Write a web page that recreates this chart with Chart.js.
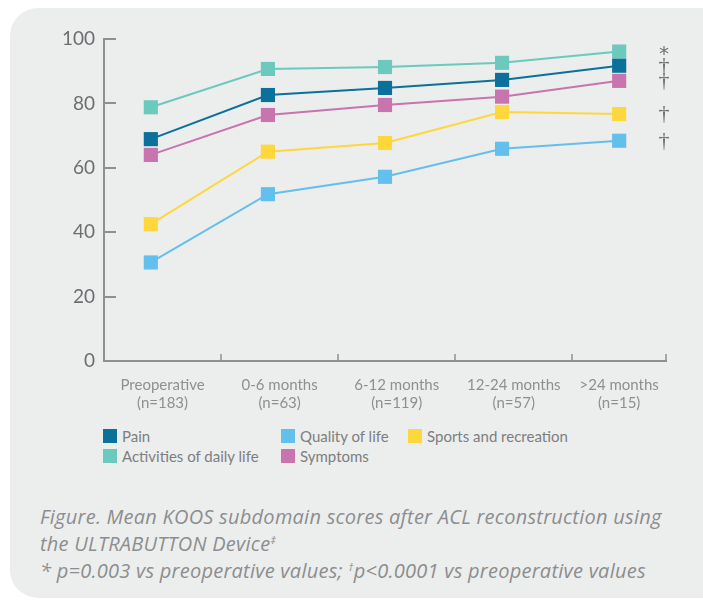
<!DOCTYPE html>
<html>
<head>
<meta charset="utf-8">
<script src="https://cdn.jsdelivr.net/npm/chart.js@4.4.1/dist/chart.umd.min.js"></script>
<style>
  html, body { margin:0; padding:0; background:#ffffff; }
  body { width:703px; height:604px; position:relative; overflow:hidden; font-family: Lato, "Open Sans", sans-serif; }
  #card { position:absolute; left:10px; top:8px; width:720px; height:590px; background:#eceded; border-radius:28px; }
  #chart { position:absolute; left:0; top:0; }
  .lg { position:absolute; display:flex; align-items:center; font-size:15px; color:#7d7e80; white-space:nowrap; height:16px; }
  .lg i { display:inline-block; width:14px; height:14px; margin-right:5px; }
  #caption { position:absolute; left:40px; top:503px; font-family:"Open Sans", sans-serif; font-style:italic; font-size:20px; line-height:27px; color:#8c8d8f; white-space:nowrap; letter-spacing:0.25px; }
  #caption sup { font-size:11px; vertical-align: 7px; line-height:0; }
</style>
</head>
<body>
<div id="card"></div>
<canvas id="chart" width="703" height="420"></canvas>
<div id="legend"></div>
<div id="caption">Figure. Mean KOOS subdomain scores after ACL reconstruction using<br>the ULTRABUTTON Device<sup>‡</sup><br>* p=0.003 vs preoperative values; <sup>†</sup>p&lt;0.0001 vs preoperative values</div>
<script>
// ---- data ----
const categories = ['Preoperative', '0-6 months', '6-12 months', '12-24 months', '>24 months'];
const sampleSizes = ['(n=183)', '(n=63)', '(n=119)', '(n=57)', '(n=15)'];
const seriesNames = ['Pain', 'Quality of life', 'Sports and recreation', 'Activities of daily life', 'Symptoms'];
const pain        = [68.9, 82.6, 84.8, 87.3, 91.7];
const qualityLife = [30.6, 51.8, 57.2, 65.9, 68.4];
const sports      = [42.5, 65.0, 67.7, 77.3, 76.7];
const dailyLife   = [78.8, 90.7, 91.3, 92.6, 96.1];
const symptoms    = [64.0, 76.4, 79.5, 82.1, 87.0];
const significance = ['†', '†', '†', '*', '†'];
const yTicks = [0, 20, 40, 60, 80, 100];

const seriesValues = [pain, qualityLife, sports, dailyLife, symptoms];
const colors = ['#0b709a', '#63bfec', '#fed73c', '#6cc9be', '#c874ae'];
const axisColor = '#8e8f92';

// category bands on a linear index scale
const X_MIN = -0.4, X_MAX = 4.4;
const bandEdges = [X_MIN].concat(categories.slice(0, -1).map((c, i) => i + 0.6)).concat([X_MAX]);
const bandMids = categories.map((c, i) => (bandEdges[i] + bandEdges[i + 1]) / 2);

const datasets = seriesNames.map((name, s) => ({
  label: name,
  data: seriesValues[s].map((v, i) => ({ x: i, y: v })),
  borderColor: colors[s],
  backgroundColor: colors[s],
  pointBackgroundColor: colors[s],
  pointBorderWidth: 0,
  borderWidth: 2,
  pointStyle: 'rect',
  pointRadius: 10,
  pointHoverRadius: 10,
  tension: 0,
  clip: false
}));

const tickMarks = {
  id: 'tickMarks',
  afterDraw(chart) {
    const ctx = chart.ctx, xs = chart.scales.x, ys = chart.scales.y;
    ctx.save();
    ctx.strokeStyle = axisColor;
    ctx.lineWidth = 2;
    yTicks.forEach(v => {
      const y = Math.round(ys.getPixelForValue(v));
      ctx.beginPath(); ctx.moveTo(xs.left, y); ctx.lineTo(xs.left + 12, y); ctx.stroke();
    });
    ctx.lineWidth = 1.5;
    bandEdges.slice(1).forEach(v => {
      const x = Math.round(xs.getPixelForValue(v));
      ctx.beginPath(); ctx.moveTo(x, ys.bottom); ctx.lineTo(x, ys.bottom - 7); ctx.stroke();
    });
    ctx.restore();
  }
};

const sigMarks = {
  id: 'sigMarks',
  afterDatasetsDraw(chart) {
    const ctx = chart.ctx;
    const xr = chart.scales.x.right;
    ctx.save();
    ctx.fillStyle = '#6f7072';
    ctx.textAlign = 'center';
    ctx.textBaseline = 'middle';
    chart.data.datasets.forEach((ds, s) => {
      const meta = chart.getDatasetMeta(s);
      const pt = meta.data[meta.data.length - 1];
      const mark = significance[s];
      ctx.font = mark === '*' ? '20px "DejaVu Sans"' : '22px "Liberation Serif"';
      ctx.fillText(mark, xr - 2, pt.y + (mark === '*' ? 3 : 0));
    });
    ctx.restore();
  }
};

new Chart(document.getElementById('chart'), {
  type: 'line',
  data: { datasets },
  options: {
    responsive: false,
    animation: false,
    devicePixelRatio: 1,
    layout: { padding: { left: 0, right: 37, top: 39, bottom: 0 } },
    plugins: { legend: { display: false }, tooltip: { enabled: false } },
    scales: {
      x: {
        type: 'linear',
        min: X_MIN, max: X_MAX,
        afterBuildTicks: sc => { sc.ticks = bandMids.map(v => ({ value: v })); },
        afterFit: sc => { sc.height = 59; },
        grid: { display: true, drawOnChartArea: false, drawTicks: false },
        border: { display: true, color: axisColor, width: 2 },
        ticks: {
          autoSkip: false, maxRotation: 0, minRotation: 0, padding: 15,
          color: '#8e8f91',
          font: { family: 'Lato', size: 15, lineHeight: 1.2 },
          callback: (v, i) => [categories[i], sampleSizes[i]]
        }
      },
      y: {
        min: 0, max: 100,
        afterBuildTicks: sc => { sc.ticks = yTicks.map(v => ({ value: v })); },
        afterFit: sc => { sc.width = 104; },
        grid: { display: true, drawOnChartArea: false, drawTicks: false },
        border: { display: true, color: axisColor, width: 2 },
        ticks: { padding: 9, color: '#6d6e70', font: { family: 'Lato', size: 19 } }
      }
    }
  },
  plugins: [tickMarks, sigMarks]
});

// HTML legend built from the series
const legendSlots = [[103, 436], [281, 436], [408, 436], [103, 456], [281, 456]];
const legend = document.getElementById('legend');
seriesNames.forEach((name, s) => {
  const d = document.createElement('div');
  d.className = 'lg';
  d.style.left = legendSlots[s][0] + 'px';
  d.style.top = (legendSlots[s][1] - 8) + 'px';
  d.innerHTML = '<i style="background:' + colors[s] + '"></i>' + name;
  legend.appendChild(d);
});
</script>
</body>
</html>
